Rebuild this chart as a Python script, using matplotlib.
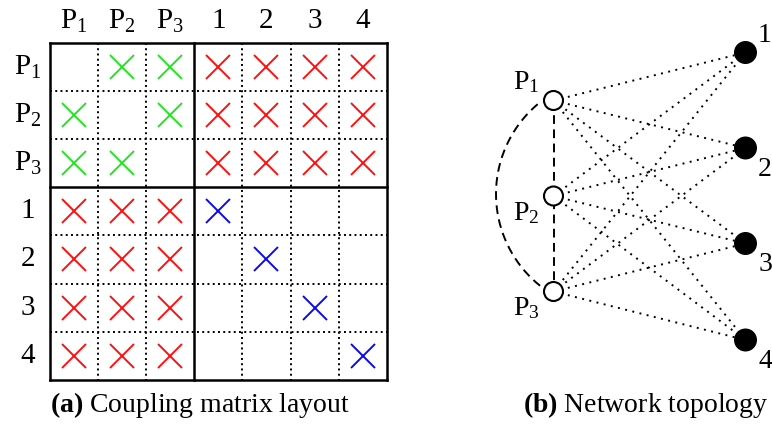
import numpy as np
import matplotlib.pyplot as plt

plt.rcParams['font.family'] = 'Liberation Serif'
plt.rcParams['mathtext.fontset'] = 'custom'
plt.rcParams['mathtext.rm'] = 'Liberation Serif'
plt.rcParams['mathtext.bf'] = 'Liberation Serif:bold'

# matrix layout: P blocks first, then the numbered nodes
labels = ['$\\mathregular{P_1}$', '$\\mathregular{P_2}$', '$\\mathregular{P_3}$', '1', '2', '3', '4']
# 0 = empty, 1 = P-P coupling, 2 = P-node coupling, 3 = node self term
coupling = [
    [0, 1, 1, 2, 2, 2, 2],
    [1, 0, 1, 2, 2, 2, 2],
    [1, 1, 0, 2, 2, 2, 2],
    [2, 2, 2, 3, 0, 0, 0],
    [2, 2, 2, 0, 3, 0, 0],
    [2, 2, 2, 0, 0, 3, 0],
    [2, 2, 2, 0, 0, 0, 3],
]
colors = {1: '#22e622', 2: '#ff1010', 3: '#0a0af0'}

# network nodes
p_names = ['$\\mathregular{P_1}$', '$\\mathregular{P_2}$', '$\\mathregular{P_3}$']
node_names = ['1', '2', '3', '4']

fig = plt.figure(figsize=(7.72, 4.28), dpi=100)
ax = fig.add_axes([0, 0, 1, 1])
ax.set_xlim(0, 772)
ax.set_ylim(428, 0)
ax.set_aspect('equal')
ax.axis('off')

# ---------------- (a) coupling matrix ----------------
x0, y0, cell = 50.0, 43.0, 48.1
n = len(labels)
dot = (0, (1.0, 1.7))
for k in range(1, n):
    if k == 3:
        continue
    ax.plot([x0 + k*cell]*2, [y0, y0 + n*cell], color='k', lw=1.4, ls=dot)
    ax.plot([x0, x0 + n*cell], [y0 + k*cell]*2, color='k', lw=1.4, ls=dot)
for k in [0, 3, n]:
    ax.plot([x0 + k*cell]*2, [y0, y0 + n*cell], color='k', lw=1.8, solid_capstyle='projecting')
    ax.plot([x0, x0 + n*cell], [y0 + k*cell]*2, color='k', lw=1.8, solid_capstyle='projecting')

for i in range(n):
    for j in range(n):
        c = coupling[i][j]
        if c:
            ax.plot(x0 + (j + 0.5)*cell, y0 + (i + 0.5)*cell, marker='x', ms=17,
                    mew=1.4, color=colors[c], ls='none')

for k, lab in enumerate(labels):
    ax.text(x0 + (k + 0.5)*cell, 21, lab, fontsize=21, ha='center', va='center')
    ax.text(28, y0 + (k + 0.5)*cell, lab, fontsize=21, ha='center', va='center')

ax.text(200, 405, r'$\mathbf{(a)}$ Coupling matrix layout', fontsize=20,
        ha='center', va='center')

# ---------------- (b) network topology ----------------
px, py = 553.5, [100.5, 196.0, 291.5]
nx, ny = 745.5, [52.5, 148.0, 243.5, 340.0]

for yp in py:
    for yn in ny:
        ax.plot([px, nx], [yp, yn], color='k', lw=1.4, ls=(0, (1.0, 2.8)), zorder=1)

ax.plot([px, px], [py[0], py[2]], color='k', lw=1.4, ls=(0, (4.5, 2.8)), zorder=1)

# arc joining P1 and P3 on the left
cx, cy, r = 613.6, 194.0, 117.6
a1 = np.arctan2(101.7 - cy, 541.7 - cx) % (2*np.pi)
a2 = np.arctan2(286.7 - cy, 539.3 - cx) % (2*np.pi)
t = np.linspace(a2, a1, 200)
ax.plot(cx + r*np.cos(t), cy + r*np.sin(t), color='k', lw=1.4, ls=(0, (4.5, 2.8)), zorder=1)

for yp in py:
    ax.add_patch(plt.Circle((px, yp), 9.5, facecolor='white', edgecolor='k', lw=1.5, zorder=3))
for yn in ny:
    ax.add_patch(plt.Circle((nx, yn), 10.8, facecolor='k', edgecolor='k', zorder=3))

for name, yp, dy in zip(p_names, py, [-18, 17, 17]):
    ax.text(526, yp + dy, name, fontsize=20, ha='center', va='center')
for name, yn, dy in zip(node_names, ny, [-17, 21, 21, 22]):
    ax.text(765, yn + dy, name, fontsize=20, ha='center', va='center')

ax.text(646, 405, r'$\mathbf{(b)}$ Network topology', fontsize=20,
        ha='center', va='center')

fig.savefig('out.png', dpi=100)
